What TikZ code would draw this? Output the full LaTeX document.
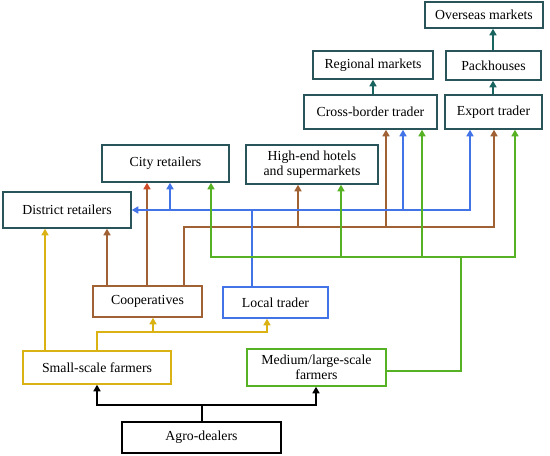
\documentclass[tikz,border=0pt]{standalone}
\usepackage{fontspec}
\setmainfont{Liberation Serif}
\usetikzlibrary{arrows.meta}
\definecolor{boxteal}{RGB}{40,84,90}
\definecolor{arrteal}{RGB}{25,100,95}
\definecolor{brn}{RGB}{160,98,52}
\definecolor{tipred}{RGB}{205,75,40}
\definecolor{blu}{RGB}{66,116,232}
\definecolor{ylw}{RGB}{218,178,20}
\definecolor{grn}{RGB}{86,178,36}
\begin{document}
\begin{tikzpicture}[x=1pt, y=-1pt,
  nodebox/.style={draw, line width=1.5pt, inner sep=1pt, align=center, font=\fontsize{13.8}{14.5}\selectfont},
  flow/.style={line width=1.4pt, -{Triangle[width=7pt,length=6.5pt]}}
]
\useasboundingbox (0,0) rectangle (550,456);
\node[nodebox, draw=boxteal, minimum width=118, minimum height=26] (overseas) at (484,15) {Overseas markets};
\node[nodebox, draw=boxteal, minimum width=120, minimum height=28] (regional) at (373,65) {Regional markets};
\node[nodebox, draw=boxteal, minimum width=95, minimum height=29] (pack) at (493.5,65.5) {Packhouses};
\node[nodebox, draw=boxteal, minimum width=133, minimum height=34] (cross) at (370.5,112) {Cross-border trader};
\node[nodebox, draw=boxteal, minimum width=97, minimum height=34] (export) at (493.5,112) {Export trader};
\node[nodebox, draw=boxteal, minimum width=127, minimum height=37] (city) at (165.5,163.5) {City retailers};
\node[nodebox, draw=boxteal, minimum width=132, minimum height=39] (hotels) at (312,164.5) {High-end hotels\\and supermarkets};
\node[nodebox, draw=boxteal, minimum width=128, minimum height=36] (district) at (67,210) {District retailers};
\node[nodebox, draw=brn, minimum width=109, minimum height=31] (coop) at (147.5,301.5) {Cooperatives};
\node[nodebox, draw=blu, minimum width=105, minimum height=31] (local) at (275.5,302.5) {Local trader};
\node[nodebox, draw=ylw, minimum width=148, minimum height=33] (small) at (97,367.5) {Small-scale farmers};
\node[nodebox, draw=grn, minimum width=139, minimum height=37] (medium) at (316.5,367.5) {Medium/large-scale\\farmers};
\node[nodebox, draw=black, minimum width=159, minimum height=31] (agro) at (201.5,437.5) {Agro-dealers};

\draw[line width=1.4pt] (agro.north -| 202,0) -- (202,405) coordinate (agroj);
\draw[flow] (agroj) -| (small.south -| 97,0);
\draw[flow] (agroj) -| (medium.south -| 316,0);

\draw[flow, ylw] (small.north -| 45,0) -- (district.south -| 45,0);
\draw[flow, ylw] (small.north -| 97,0) |- (153,332) -| (local.south -| 267,0);
\draw[flow, ylw] (153,332) -- (coop.south -| 153,0);

\draw[flow, brn] (coop.north -| 107,0) -- (district.south -| 107,0);
\draw[brn, line width=1.4pt, -{Triangle[width=7pt,length=6.5pt,color=tipred]}] (coop.north -| 147,0) -- (city.south -| 147,0);
\draw[flow, brn] (coop.north -| 184,0) |- (298,227) -| (export.south -| 494,0);
\draw[flow, brn] (298,227) -- (hotels.south -| 298,0);
\draw[flow, brn] (386,227) -- (cross.south -| 386,0);

\draw[flow, blu] (local.north -| 252,0) |- (district.east);
\draw[flow, blu] (252,210) -| (export.south -| 470,0);
\draw[flow, blu] (170,210) -- (city.south -| 170,0);
\draw[flow, blu] (403,210) -- (cross.south -| 403,0);

\draw[line width=1.4pt, grn] (medium.east |- 0,371) -| (461,257) coordinate (medj);
\draw[flow, grn] (medj) -| (city.south -| 211,0);
\draw[flow, grn] (medj) -| (export.south -| 515,0);
\draw[flow, grn] (341,257) -- (hotels.south -| 341,0);
\draw[flow, grn] (422,257) -- (cross.south -| 422,0);

\draw[flow, arrteal] (cross.north -| 373,0) -- (regional.south -| 373,0);
\draw[flow, arrteal] (export.north -| 493,0) -- (pack.south -| 493,0);
\draw[flow, arrteal] (pack.north -| 493,0) -- (overseas.south -| 493,0);
\end{tikzpicture}
\end{document}
